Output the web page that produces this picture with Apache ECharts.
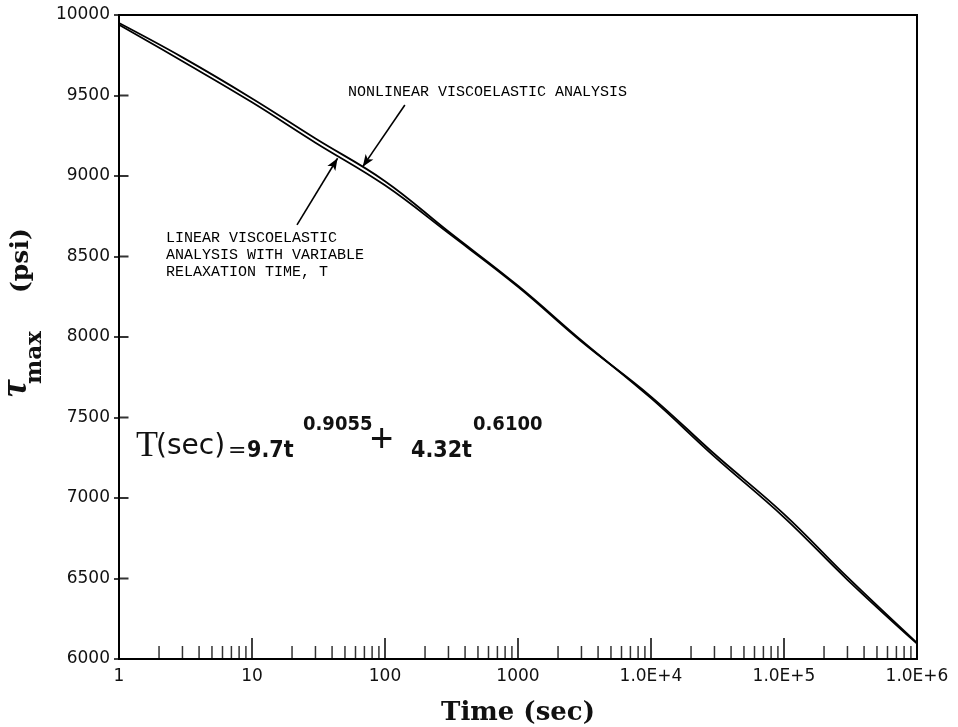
<!DOCTYPE html>
<html>
<head>
<meta charset="utf-8">
<title>Tau max vs time</title>
<script src="https://cdn.jsdelivr.net/npm/echarts@6/dist/echarts.min.js"></script>
<style>
  html, body { margin: 0; padding: 0; background: #fff; }
  #chart { width: 958px; height: 727px; }
</style>
</head>
<body>
<div id="chart"></div>
<script>
// time points (sec), log axis
const timeSec = [1, 3, 10, 30, 100, 300, 1000, 3000, 1e4, 3e4, 1e5, 3e5, 1e6]
// tau max (psi)
const nonlinearPsi = [9950, 9737, 9482, 9233, 8968, 8655, 8318, 7978, 7620, 7257, 6880, 6492, 6095]
const linearPsi = [9940, 9713, 9458, 9207, 8942, 8645, 8312, 7972, 7630, 7273, 6900, 6508, 6100]

const yTickValues = [6000, 6500, 7000, 7500, 8000, 8500, 9000, 9500, 10000]
const xTickLabels = ['1', '10', '100', '1000', '1.0E+4', '1.0E+5', '1.0E+6']
const decades = [1, 10, 100, 1000, 1e4, 1e5]
const minorSteps = [2, 3, 4, 5, 6, 7, 8, 9]

// arrows: [tail, head] in data coords
const arrowNonlinear = [[141, 9441], [68, 9058]]
const arrowLinear = [[21.8, 8696], [44, 9110]]

const minorTicks = []
decades.forEach(d => minorSteps.forEach(m => minorTicks.push([d * m, yTickValues[0]])))
// inner half of the crossing y ticks
const yInnerTicks = yTickValues.slice(1, -1).map(v => [1, v])

const chart = echarts.init(document.getElementById('chart'))

const black = '#000'
const typeFont = 'Liberation Mono'
const mid = { textVerticalAlign: 'middle', verticalAlign: 'middle', fill: '#111' }

const option = {
  backgroundColor: '#fff',
  animation: false,
  grid: {
    left: 119, right: 41, top: 15, bottom: 68,
    show: true, borderColor: black, borderWidth: 2,
    containLabel: false, outerBoundsMode: 'none'
  },
  xAxis: {
    type: 'log',
    logBase: 10,
    min: 1,
    max: 1e6,
    axisLine: { lineStyle: { color: black, width: 2 } },
    axisTick: { inside: true, length: 21, lineStyle: { color: black, width: 1.5 } },
    axisLabel: {
      color: '#111', fontSize: 17, fontFamily: 'DejaVu Sans', margin: 9,
      formatter: v => xTickLabels[Math.round(Math.log10(v))]
    },
    splitLine: { show: false },
    name: 'Time (sec)',
    nameLocation: 'middle',
    nameGap: 41,
    nameTextStyle: { color: '#111', fontSize: 26, fontWeight: 'bold', fontFamily: 'DejaVu Serif' }
  },
  yAxis: {
    type: 'value',
    min: yTickValues[0], max: yTickValues[yTickValues.length - 1], interval: 500,
    axisLine: { show: true, lineStyle: { color: black, width: 2 } },
    axisTick: { show: true, length: 5, lineStyle: { color: black, width: 1.5 } },
    axisLabel: { color: '#111', fontSize: 17, fontFamily: 'DejaVu Sans', margin: 9, formatter: v => String(v) },
    splitLine: { show: false }
  },
  series: [
    {
      name: 'Nonlinear viscoelastic analysis',
      type: 'line',
      data: timeSec.map((t, i) => [t, nonlinearPsi[i]]),
      smooth: 0.4,
      showSymbol: false,
      lineStyle: { color: black, width: 1.8 },
      markLine: {
        silent: true,
        symbol: ['none', 'arrow'],
        symbolSize: [7, 12],
        label: { show: false },
        lineStyle: { color: black, width: 1.6, type: 'solid' },
        data: [[{ coord: arrowNonlinear[0] }, { coord: arrowNonlinear[1] }]]
      }
    },
    {
      name: 'Linear viscoelastic analysis',
      type: 'line',
      data: timeSec.map((t, i) => [t, linearPsi[i]]),
      smooth: 0.4,
      showSymbol: false,
      lineStyle: { color: black, width: 1.8 },
      markLine: {
        silent: true,
        symbol: ['none', 'arrow'],
        symbolSize: [7, 12],
        label: { show: false },
        lineStyle: { color: black, width: 1.6, type: 'solid' },
        data: [[{ coord: arrowLinear[0] }, { coord: arrowLinear[1] }]]
      }
    },
    {
      // minor ticks of the log axis (2..9 of each decade)
      type: 'scatter',
      data: minorTicks,
      symbol: 'rect',
      symbolSize: [1.5, 13],
      symbolOffset: [0, -6.5],
      itemStyle: { color: black },
      clip: false,
      silent: true
    },
    {
      // y ticks cross the axis: inner half
      type: 'scatter',
      data: yInnerTicks,
      symbol: 'rect',
      symbolSize: [9, 2],
      symbolOffset: [5, 0],
      itemStyle: { color: black },
      clip: false,
      silent: true,
      z: 5
    }
  ],
  graphic: [
    {
      type: 'text', left: 348, top: 85,
      style: { text: 'NONLINEAR VISCOELASTIC ANALYSIS', font: '15px ' + typeFont, fill: '#000' }
    },
    {
      type: 'text', left: 166, top: 230,
      style: {
        text: 'LINEAR VISCOELASTIC\nANALYSIS WITH VARIABLE\nRELAXATION TIME, T',
        font: '15px ' + typeFont, fill: '#000', lineHeight: 17
      }
    },
    // formula  T(sec) = 9.7t^0.9055 + 4.32t^0.6100
    { type: 'text', x: 136, y: 447, style: Object.assign({ text: 'T', font: '36px "Liberation Serif"' }, mid) },
    { type: 'text', x: 156, y: 447, style: Object.assign({ text: '(sec)', font: '28px "DejaVu Sans"' }, mid) },
    { type: 'text', x: 228, y: 451, style: Object.assign({ text: '=', font: '22px "DejaVu Sans"' }, mid) },
    { type: 'text', x: 247, y: 451, style: Object.assign({ text: '9.7t', font: 'bold 23px "DejaVu Sans Condensed"' }, mid) },
    { type: 'text', x: 303, y: 425, style: Object.assign({ text: '0.9055', font: 'bold 20px "DejaVu Sans Condensed"' }, mid) },
    { type: 'text', x: 370, y: 441, style: Object.assign({ text: '+', font: '40px "Liberation Sans"' }, mid) },
    { type: 'text', x: 411, y: 451, style: Object.assign({ text: '4.32t', font: 'bold 23px "DejaVu Sans Condensed"' }, mid) },
    { type: 'text', x: 473, y: 425, style: Object.assign({ text: '0.6100', font: 'bold 20px "DejaVu Sans Condensed"' }, mid) },
    // rotated y-axis title: tau_max (psi)
    {
      type: 'group', x: 0, y: 397, rotation: Math.PI / 2,
      children: [
        { type: 'text', x: 0, y: 16, style: Object.assign({ text: 'τ', font: 'italic bold 38px "Liberation Serif"' }, mid) },
        { type: 'text', x: 13, y: 35, style: Object.assign({ text: 'max', font: 'bold 23px "DejaVu Serif"' }, mid) },
        { type: 'text', x: 104, y: 21, style: Object.assign({ text: '(psi)', font: 'bold 25px "DejaVu Serif"' }, mid) }
      ]
    }
  ]
}

chart.setOption(option)
</script>
</body>
</html>
